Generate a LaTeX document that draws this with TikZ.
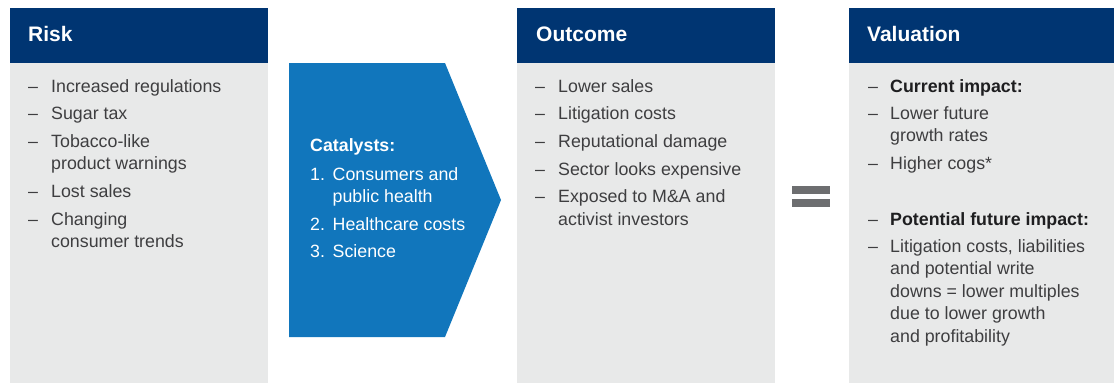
\documentclass[tikz,border=0pt]{standalone}
\usepackage{fontspec}
\setmainfont{Liberation Sans}
\definecolor{navy}{RGB}{0,53,114}
\definecolor{panel}{RGB}{232,233,233}
\definecolor{chev}{RGB}{17,118,188}
\definecolor{eqgray}{RGB}{109,110,112}
\definecolor{txt}{RGB}{62,62,64}
\definecolor{txtb}{RGB}{30,30,32}
\begin{document}
\begin{tikzpicture}[x=1pt,y=-1pt,
  headbox/.style={fill=navy, draw=none, inner sep=0pt, outer sep=0pt, anchor=north west, minimum height=55pt},
  panelbox/.style={fill=panel, draw=none, inner sep=0pt, outer sep=0pt, anchor=north west, minimum height=320pt},
  htext/.style={anchor=base west, inner sep=0pt, text=white, font=\fontsize{21}{25}\selectfont\bfseries},
  dashmark/.style={anchor=base west, inner sep=0pt, text=txt, font=\fontsize{17.8}{22.5}\selectfont},
  item/.style={anchor=base west, inner sep=0pt, text=txt, font=\fontsize{17.8}{22.5}\selectfont},
  bolditem/.style={item, text=txtb, font=\fontsize{17.8}{22.5}\selectfont\bfseries},
  citem/.style={anchor=base west, inner sep=0pt, text=white, font=\fontsize{17.8}{21.5}\selectfont},
  eqbar/.style={fill=eqgray, draw=none, inner sep=0pt, outer sep=0pt, anchor=north west, minimum width=38pt, minimum height=8pt}
]
\useasboundingbox (0,0) rectangle (1115,383);

% Risk column
\node[panelbox, minimum width=258pt] (riskbody) at (10,63) {};
\node[headbox, minimum width=258pt] (riskhead) at (10,8) {};
\node[htext] (risktitle) at (28,41.5) {Risk};
\node[dashmark] (rd1) at (28,92.5) {–};
\node[item] (ri1) at (51,92.5) {Increased regulations};
\node[dashmark] (rd2) at (28,119.5) {–};
\node[item] (ri2) at (51,119.5) {Sugar tax};
\node[dashmark] (rd3) at (28,147) {–};
\node[item] (ri3a) at (51,147) {Tobacco-like};
\node[item] (ri3b) at (51,169.5) {product warnings};
\node[dashmark] (rd4) at (28,197) {–};
\node[item] (ri4) at (51,197) {Lost sales};
\node[dashmark] (rd5) at (28,225) {–};
\node[item] (ri5a) at (51,225) {Changing};
\node[item] (ri5b) at (51,247.5) {consumer trends};

% Catalysts chevron
\fill[chev] (289,63) -- (445,63) -- (501,200) -- (445,337) -- (289,337) -- cycle;
\node[citem, font=\fontsize{17.8}{21.5}\selectfont\bfseries] (cattitle) at (310,151.5) {Catalysts:};
\node[citem] (cn1) at (310,180.5) {1.};
\node[citem] (ct1a) at (332.5,180.5) {Consumers and};
\node[citem] (ct1b) at (332.5,202) {public health};
\node[citem] (cn2) at (310,230) {2.};
\node[citem] (ct2) at (332.5,230) {Healthcare costs};
\node[citem] (cn3) at (310,257) {3.};
\node[citem] (ct3) at (332.5,257) {Science};

% Outcome column
\node[panelbox, minimum width=258pt] (outbody) at (517,63) {};
\node[headbox, minimum width=258pt] (outhead) at (517,8) {};
\node[htext] (outtitle) at (536,41.5) {Outcome};
\node[dashmark] (od1) at (535,92.5) {–};
\node[item] (oi1) at (558,92.5) {Lower sales};
\node[dashmark] (od2) at (535,119.5) {–};
\node[item] (oi2) at (558,119.5) {Litigation costs};
\node[dashmark] (od3) at (535,147) {–};
\node[item] (oi3) at (558,147) {Reputational damage};
\node[dashmark] (od4) at (535,175) {–};
\node[item] (oi4) at (558,175) {Sector looks expensive};
\node[dashmark] (od5) at (535,202.5) {–};
\node[item] (oi5a) at (558,202.5) {Exposed to M\&A and};
\node[item] (oi5b) at (558,225) {activist investors};

% Equals sign
\node[eqbar] (eqtop) at (792,186) {};
\node[eqbar] (eqbot) at (792,199) {};

% Valuation column
\node[panelbox, minimum width=265pt] (valbody) at (849,63) {};
\node[headbox, minimum width=265pt] (valhead) at (849,8) {};
\node[htext] (valtitle) at (867,41.5) {Valuation};
\node[dashmark] (vd1) at (868,92.5) {–};
\node[bolditem] (vi1) at (890,92.5) {Current impact:};
\node[dashmark] (vd2) at (868,119) {–};
\node[item] (vi2a) at (890,119) {Lower future};
\node[item] (vi2b) at (890,141.5) {growth rates};
\node[dashmark] (vd3) at (868,169) {–};
\node[item] (vi3) at (890,169) {Higher cogs*};
\node[dashmark] (vd4) at (868,225) {–};
\node[bolditem] (vi4) at (890,225) {Potential future impact:};
\node[dashmark] (vd5) at (868,252) {–};
\node[item] (vi5a) at (890,252) {Litigation costs, liabilities};
\node[item] (vi5b) at (890,274.5) {and potential write};
\node[item] (vi5c) at (890,297) {downs = lower multiples};
\node[item] (vi5d) at (890,319.5) {due to lower growth};
\node[item] (vi5e) at (890,342) {and profitability};
\end{tikzpicture}
\end{document}
